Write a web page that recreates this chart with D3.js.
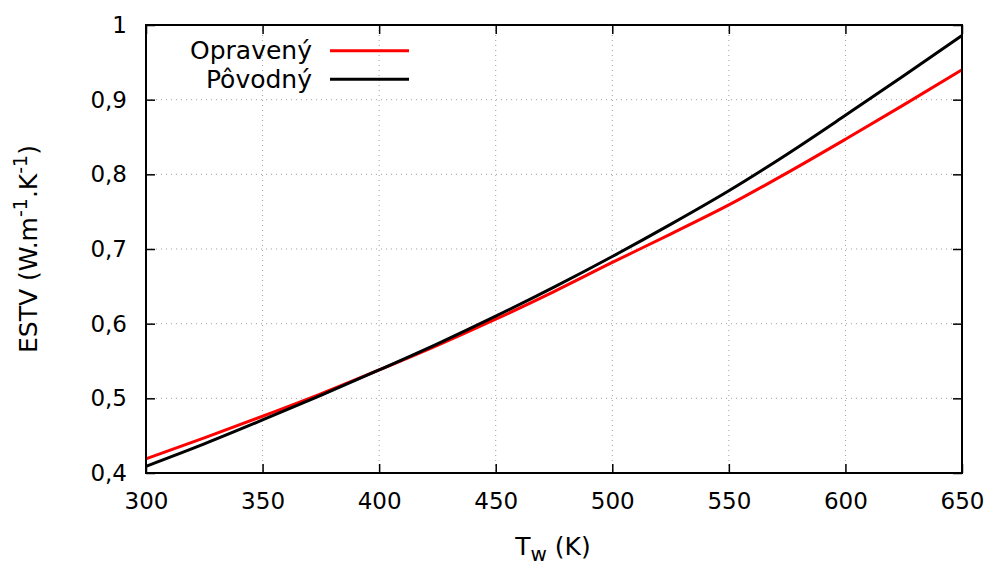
<!DOCTYPE html>
<html>
<head>
<meta charset="utf-8">
<script src="https://cdn.jsdelivr.net/npm/d3@7"></script>
<style>
  html, body { margin: 0; padding: 0; background: #fff; }
  svg { display: block; font-family: "DejaVu Sans", sans-serif; }
</style>
</head>
<body>
<svg id="chart" width="991" height="566"></svg>
<script>
// Wall temperature (K)
const temperatures = [300, 325, 350, 375, 400, 425, 450, 475, 500, 525, 550, 575, 600, 625, 650];
// Corrected model
const opraveny = [0.419, 0.447, 0.476, 0.506, 0.538, 0.571, 0.606, 0.643, 0.682, 0.720, 0.759, 0.802, 0.847, 0.893, 0.940];
// Original model
const povodny = [0.409, 0.439, 0.471, 0.504, 0.538, 0.573, 0.610, 0.649, 0.690, 0.733, 0.778, 0.827, 0.879, 0.932, 0.986];

const xTicks = [300, 350, 400, 450, 500, 550, 600, 650];
const yTicks = [0.4, 0.5, 0.6, 0.7, 0.8, 0.9, 1.0];

const series = [
  { name: "Opravený", values: opraveny, color: "#ff0000" },
  { name: "Pôvodný", values: povodny, color: "#000000" }
];

const svg = d3.select("#chart");
const L = 146, R = 962, T = 25, B = 473;

const x = d3.scaleLinear().domain([300, 650]).range([L, R]);
const y = d3.scaleLinear().domain([0.4, 1.0]).range([B, T]);

const fmtY = v => (v === 1 ? "1" : d3.format(".1f")(v).replace(".", ","));
const tickFont = 23, titleFont = 25;

// Dotted grid
const grid = svg.append("g");
xTicks.slice(1, -1).forEach(t => {
  grid.append("line").attr("x1", x(t)).attr("x2", x(t)).attr("y1", T).attr("y2", B)
    .attr("stroke", "#a0a0a0").attr("stroke-width", 1).attr("stroke-dasharray", "1,4");
});
yTicks.slice(1, -1).forEach(t => {
  grid.append("line").attr("x1", L).attr("x2", R).attr("y1", y(t)).attr("y2", y(t))
    .attr("stroke", "#a0a0a0").attr("stroke-width", 1).attr("stroke-dasharray", "1,4");
});

// Axes with inward ticks on all four sides
const tickLen = 9;
svg.append("g").attr("transform", `translate(0,${B})`)
  .call(d3.axisBottom(x).tickValues(xTicks).tickSize(-tickLen).tickPadding(20).tickFormat(d3.format("d")))
  .call(g => g.select(".domain").remove())
  .call(g => g.selectAll("line").attr("stroke-width", 1.5))
  .call(g => g.selectAll("text").attr("font-size", tickFont).attr("fill", "#000").attr("font-family", "DejaVu Sans"));
svg.append("g").attr("transform", `translate(0,${T})`)
  .call(d3.axisTop(x).tickValues(xTicks).tickSize(-tickLen).tickFormat(""))
  .call(g => g.select(".domain").remove())
  .call(g => g.selectAll("line").attr("stroke-width", 1.5));
svg.append("g").attr("transform", `translate(${L},0)`)
  .call(d3.axisLeft(y).tickValues(yTicks).tickSize(-tickLen).tickPadding(19).tickFormat(fmtY))
  .call(g => g.select(".domain").remove())
  .call(g => g.selectAll("line").attr("stroke-width", 1.5))
  .call(g => g.selectAll("text").attr("font-size", tickFont).attr("fill", "#000").attr("font-family", "DejaVu Sans"));
svg.append("g").attr("transform", `translate(${R},0)`)
  .call(d3.axisRight(y).tickValues(yTicks).tickSize(-tickLen).tickFormat(""))
  .call(g => g.select(".domain").remove())
  .call(g => g.selectAll("line").attr("stroke-width", 1.5));

// Curves
const line = d3.line().x((d, i) => x(temperatures[i])).y(d => y(d)).curve(d3.curveMonotoneX);
series.forEach(s => {
  svg.append("path").datum(s.values).attr("d", line)
    .attr("fill", "none").attr("stroke", s.color).attr("stroke-width", 3);
});

// Frame
svg.append("rect").attr("x", L).attr("y", T).attr("width", R - L).attr("height", B - T)
  .attr("fill", "none").attr("stroke", "#000").attr("stroke-width", 2);

// Legend
const legend = svg.append("g");
series.forEach((s, i) => {
  const ly = 50.7 + i * 28.5;
  legend.append("text").attr("x", 312).attr("y", ly + 8.5).attr("text-anchor", "end")
    .attr("font-size", titleFont).text(s.name);
  legend.append("line").attr("x1", 330).attr("x2", 409).attr("y1", ly).attr("y2", ly)
    .attr("stroke", s.color).attr("stroke-width", 3);
});

// Axis titles
const xt = svg.append("text").attr("x", 553).attr("y", 555).attr("text-anchor", "middle").attr("font-size", titleFont);
xt.append("tspan").text("T");
xt.append("tspan").attr("dy", 6).attr("font-size", 20).text("w");
xt.append("tspan").attr("dy", -6).text(" (K)");

const yt = svg.append("text").attr("transform", "translate(37,249) rotate(-90)")
  .attr("text-anchor", "middle").attr("font-size", titleFont);
yt.append("tspan").text("ESTV (W.m");
yt.append("tspan").attr("dy", -10).attr("font-size", 19).text("-1");
yt.append("tspan").attr("dy", 10).text(".K");
yt.append("tspan").attr("dy", -10).attr("font-size", 19).text("-1");
yt.append("tspan").attr("dy", 10).text(")");
</script>
</body>
</html>
